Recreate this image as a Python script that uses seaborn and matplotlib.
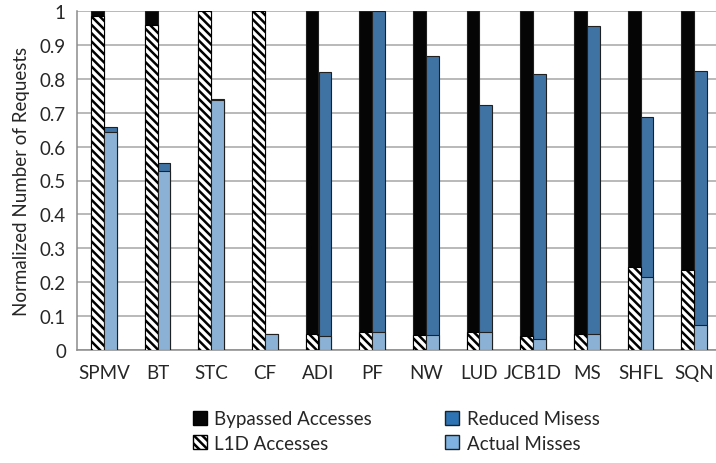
import numpy as np
import pandas as pd
import matplotlib
matplotlib.use('Agg')
import matplotlib.pyplot as plt
from matplotlib.patches import Patch
import seaborn as sns

# ---- data
benchmarks = ['SPMV', 'BT', 'STC', 'CF', 'ADI', 'PF', 'NW', 'LUD', 'JCB1D', 'MS', 'SHFL', 'SQN']
l1d_accesses = [0.984, 0.958, 1.0, 1.0, 0.047, 0.052, 0.044, 0.052, 0.040, 0.047, 0.244, 0.236]
bypassed_accesses = [0.016, 0.042, 0.0, 0.0, 0.953, 0.948, 0.956, 0.948, 0.960, 0.953, 0.756, 0.764]
actual_misses = [0.642, 0.527, 0.738, 0.046, 0.041, 0.052, 0.044, 0.052, 0.033, 0.046, 0.216, 0.073]
reduced_misses = [0.017, 0.026, 0.002, 0.0, 0.779, 0.948, 0.823, 0.671, 0.781, 0.909, 0.470, 0.750]
yticks = [0, 0.1, 0.2, 0.3, 0.4, 0.5, 0.6, 0.7, 0.8, 0.9, 1]

c_black = '#050505'
c_blue = '#2e74b5'
c_light = '#7fb2e0'
HATCH = '\\\\\\\\'

sns.set_style('white')
plt.rcParams['font.family'] = ['Lato', 'DejaVu Sans']
plt.rcParams['hatch.linewidth'] = 1.8

# long tables: top layer = full stack, bottom layer = lower segment
acc_tot = np.array(l1d_accesses) + np.array(bypassed_accesses)
miss_tot = np.array(actual_misses) + np.array(reduced_misses)
df_top = pd.DataFrame({
    'bench': benchmarks * 2,
    'side': ['acc'] * 12 + ['miss'] * 12,
    'val': list(acc_tot) + list(miss_tot),
})
df_bot = pd.DataFrame({
    'bench': benchmarks * 2,
    'side': ['acc'] * 12 + ['miss'] * 12,
    'val': list(l1d_accesses) + list(actual_misses),
})

fig = plt.figure(figsize=(7.16, 4.64), dpi=100)
ax = fig.add_axes([77 / 716, 113 / 464, 644 / 716, 339 / 464])

sns.barplot(data=df_top, x='bench', y='val', hue='side', palette=[c_black, c_blue],
            width=0.484, gap=0, errorbar=None, legend=False, ax=ax,
            edgecolor='#202020', linewidth=0.8, zorder=3)
sns.barplot(data=df_bot, x='bench', y='val', hue='side', palette=['white', c_light],
            width=0.484, gap=0, errorbar=None, legend=False, ax=ax,
            edgecolor='#202020', linewidth=0.8, zorder=4)

# hatch on L1D segments
for p in ax.containers[2]:
    p.set_hatch(HATCH)
    p.set_edgecolor('black')

ax.set_xlim(-0.5, 11.5)
ax.set_ylim(0, 1)
ax.set_yticks(yticks)
ax.set_yticklabels(['0' if v == 0 else ('1' if v == 1 else f'{v:.1f}') for v in yticks])
ax.yaxis.grid(True, color='#a6a6a6', lw=1.1, zorder=0)
ax.set_axisbelow(True)
ax.tick_params(axis='both', length=0, labelsize=13.5, pad=8)
ax.tick_params(axis='x', pad=10)
ax.set_xlabel('')
ax.set_ylabel('Normalized Number of Requests', fontsize=13.5, labelpad=7)
for s in ['top', 'right']:
    ax.spines[s].set_visible(False)
ax.spines['left'].set_color('#8c8c8c')
ax.spines['bottom'].set_color('#8c8c8c')
ax.spines['left'].set_linewidth(1.1)
ax.spines['bottom'].set_linewidth(1.1)

handles = [
    Patch(facecolor=c_black, edgecolor='black', label='Bypassed Accesses'),
    Patch(facecolor='white', edgecolor='black', hatch=HATCH, label='L1D Accesses'),
    Patch(facecolor=c_blue, edgecolor='#202020', label='Reduced Misess'),
    Patch(facecolor=c_light, edgecolor='#202020', label='Actual Misses'),
]
fig.legend(handles=handles, ncol=2, loc='center left', bbox_to_anchor=(176 / 716, 1 - 432 / 464),
           frameon=False, fontsize=13.5, handlelength=0.75, handleheight=0.75, handletextpad=0.4,
           columnspacing=3.9, labelspacing=0.4)

fig.savefig('out.png', dpi=100)
